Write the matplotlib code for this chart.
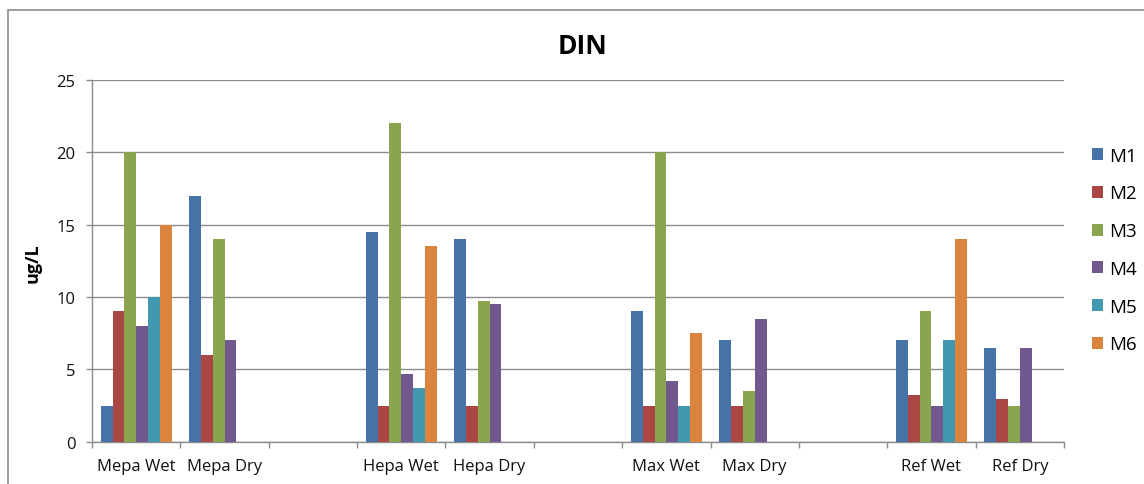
import matplotlib.pyplot as plt
import numpy as np
from matplotlib.patches import Rectangle

plt.rcParams['font.family'] = ['Open Sans', 'DejaVu Sans']

nan = np.nan
#------------ data (ug/L), blank slots separate the sites
cats = ['Mepa Wet', 'Mepa Dry', '', 'Hepa Wet', 'Hepa Dry', '',
        'Max Wet', 'Max Dry', '', 'Ref Wet', 'Ref Dry']
M1 = [2.5, 17, nan, 14.5, 14, nan, 9, 7, nan, 7, 6.5]
M2 = [9, 6, nan, 2.5, 2.5, nan, 2.5, 2.5, nan, 3.25, 2.95]
M3 = [20, 14, nan, 22, 9.7, nan, 20, 3.5, nan, 9, 2.5]
M4 = [8, 7, nan, 4.7, 9.5, nan, 4.2, 8.5, nan, 2.5, 6.5]
M5 = [10, nan, nan, 3.7, nan, nan, 2.5, nan, nan, 7, nan]
M6 = [15, nan, nan, 13.5, nan, nan, 7.5, nan, nan, 14, nan]
series = [M1, M2, M3, M4, M5, M6]
names = ['M1', 'M2', 'M3', 'M4', 'M5', 'M6']
colors = ['#4572A7', '#AA4643', '#89A54E', '#71588F', '#4198AF', '#DB843D']

W, H = 1144, 485
fig = plt.figure(figsize=(W / 100, H / 100), dpi=100)
ax = fig.add_axes([92 / W, (H - 442.7) / H, (1064 - 92) / W, (442.7 - 81) / H])

grey = '#8c8c8c'
x = np.arange(len(cats))
w = 1 / 7.5
for i, (vals, name, c) in enumerate(zip(series, names, colors)):
    ax.bar(x + (i - 2.5) * w, vals, width=w, color=c, label=name, zorder=3)

ax.set_xlim(-0.5, len(cats) - 0.5)
ax.set_ylim(0, 25)
ax.set_yticks(np.arange(0, 26, 5))
ax.yaxis.grid(True, color=grey, lw=1, zorder=0)

# labels at centres, tick marks at slot boundaries
ax.set_xticks(x)
ax.set_xticklabels(cats, fontsize=12, color='#111111')
ax.set_xticks(np.arange(-0.5, len(cats)), minor=True)
ax.tick_params(axis='x', which='major', length=0, pad=12)
ax.tick_params(axis='x', which='minor', length=4, color=grey, width=1)
ax.tick_params(axis='y', length=4, color=grey, width=1, labelsize=12,
               labelcolor='#111111', pad=8)

for s in ['top', 'right']:
    ax.spines[s].set_visible(False)
for s in ['left', 'bottom']:
    ax.spines[s].set_color(grey)
    ax.spines[s].set_linewidth(1)

fig.text(582 / W, (H - 46) / H, 'DIN', ha='center', va='center',
         fontsize=19, fontweight='bold')
fig.text(33 / W, (H - 263) / H, 'ug/L', ha='center', va='center',
         rotation=90, fontsize=13, fontweight='bold')

fig.legend(loc='center left', bbox_to_anchor=(1092 / W, (H - 251) / H),
           frameon=False, fontsize=13.5, borderpad=0, borderaxespad=0,
           handlelength=0.6, handleheight=0.6, handletextpad=0.3,
           labelspacing=1.05)

# chart frame
fig.patches.append(Rectangle((8 / W, -0.1), 2, (H - 11) / H + 0.1, fill=False,
                             edgecolor=grey, lw=1.2, transform=fig.transFigure))

fig.savefig('out.png', dpi=100)
